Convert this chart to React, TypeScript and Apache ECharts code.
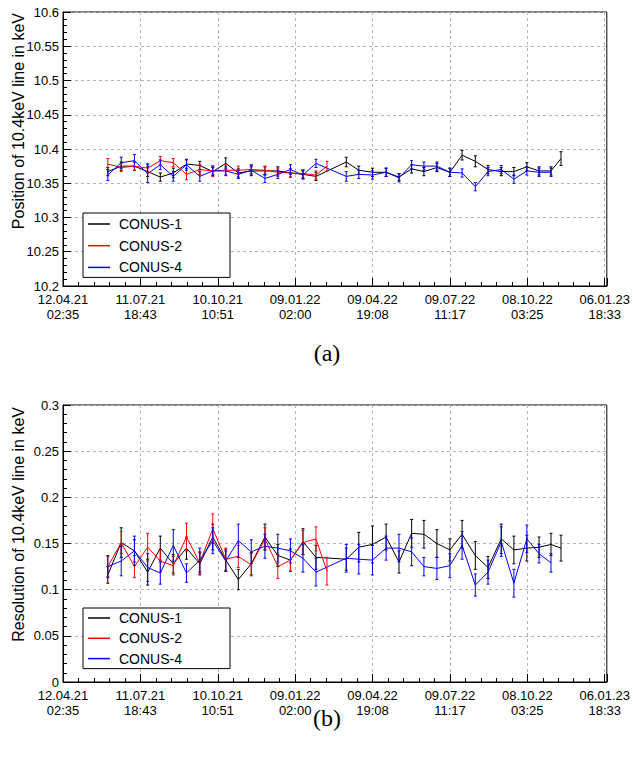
import React, { useEffect, useRef } from 'react';
import * as echarts from 'echarts';

// x positions: days since 12.04.21 02:35
const TICK_INTERVAL_DAYS = 90 + 968 / 1440;
const X_MAX_DAYS = 637.2;
const tickLabels = [
  '12.04.21\n02:35', '11.07.21\n18:43', '10.10.21\n10:51', '09.01.22\n02:00',
  '09.04.22\n19:08', '09.07.22\n11:17', '08.10.22\n03:25', '06.01.23\n18:33',
];
const days = [
  52.5, 68.2, 83.7, 99.2, 114.0, 129.2, 144.7, 160.3, 175.5, 190.7, 205.4, 220.6,
  236.6, 251.7, 266.5, 281.2, 296.4, 309.3, 331.9, 346.6, 362.6, 378.6, 393.7, 408.5,
  422.9, 438.1, 453.3, 467.6, 483.1, 498.0, 513.5, 528.3, 543.5, 557.8, 571.8, 583.5,
];
const N = null;
const seriesNames = ['CONUS-1', 'CONUS-2', 'CONUS-4'];
const seriesColors = ['#000000', '#ff0000', '#0000ff'];

// (a) line position
const posC1 = [10.367, 10.375, 10.375, 10.367, 10.359, 10.365, 10.378, 10.376, 10.367, 10.379, 10.365, 10.368, 10.368, 10.368, 10.365, 10.363, 10.360, N, 10.381, 10.369, 10.366, 10.366, 10.359, 10.371, 10.367, 10.373, 10.366, 10.391, 10.382, 10.370, 10.367, 10.367, 10.374, 10.368, 10.368, 10.386];
const posErrC1 = [0.006, 0.006, 0.006, 0.007, 0.006, 0.007, 0.006, 0.006, 0.006, 0.008, 0.006, 0.006, 0.006, 0.006, 0.006, 0.006, 0.006, N, 0.007, 0.006, 0.006, 0.006, 0.005, 0.006, 0.006, 0.006, 0.006, 0.007, 0.008, 0.006, 0.006, 0.006, 0.006, 0.006, 0.006, 0.010];
const posC2 = [10.378, 10.373, 10.375, 10.372, 10.383, 10.380, 10.363, 10.370, 10.368, 10.369, 10.369, 10.370, 10.369, 10.366, 10.365, 10.364, 10.362, 10.375, N, N, N, N, N, N, N, N, N, N, N, N, N, N, N, N, N, N];
const posErrC2 = [0.008, 0.006, 0.006, 0.007, 0.006, 0.006, 0.008, 0.007, 0.008, 0.008, 0.006, 0.006, 0.006, 0.006, 0.006, 0.006, 0.006, 0.007, N, N, N, N, N, N, N, N, N, N, N, N, N, N, N, N, N, N];
const posC4 = [10.362, 10.380, 10.383, 10.364, 10.377, 10.360, 10.377, 10.360, 10.368, 10.368, 10.363, 10.369, 10.357, 10.363, 10.370, 10.362, 10.379, N, 10.360, 10.363, 10.362, 10.366, 10.358, 10.377, 10.375, 10.375, 10.366, 10.365, 10.345, 10.367, 10.370, 10.356, 10.368, 10.366, 10.366, N];
const posErrC4 = [0.008, 0.008, 0.009, 0.013, 0.007, 0.007, 0.008, 0.007, 0.006, 0.006, 0.006, 0.008, 0.006, 0.006, 0.007, 0.006, 0.006, N, 0.007, 0.006, 0.006, 0.006, 0.006, 0.006, 0.006, 0.006, 0.006, 0.006, 0.006, 0.006, 0.006, 0.006, 0.006, 0.006, 0.006, N];

// (b) resolution
const resC1 = [0.116, 0.151, 0.142, 0.119, 0.145, 0.128, 0.145, 0.128, 0.157, 0.132, 0.111, 0.128, 0.157, 0.137, 0.132, 0.152, 0.135, N, 0.133, 0.146, 0.149, 0.157, 0.130, 0.161, 0.160, 0.150, 0.143, 0.160, 0.137, 0.124, 0.155, 0.143, 0.145, 0.146, 0.149, 0.145];
const resErrC1 = [0.009, 0.016, 0.012, 0.014, 0.013, 0.010, 0.012, 0.012, 0.014, 0.012, 0.011, 0.012, 0.014, 0.012, 0.012, 0.014, 0.013, N, 0.012, 0.016, 0.020, 0.014, 0.012, 0.015, 0.015, 0.015, 0.012, 0.015, 0.015, 0.012, 0.016, 0.015, 0.014, 0.011, 0.012, 0.014];
const resC2 = [0.125, 0.151, 0.125, 0.146, 0.131, 0.126, 0.157, 0.129, 0.166, 0.133, 0.136, 0.127, 0.155, 0.125, 0.132, 0.151, 0.155, 0.120, N, N, N, N, N, N, N, N, N, N, N, N, N, N, N, N, N, N];
const resErrC2 = [0.011, 0.012, 0.012, 0.015, 0.012, 0.010, 0.015, 0.012, 0.016, 0.012, 0.012, 0.012, 0.012, 0.013, 0.012, 0.013, 0.013, 0.015, N, N, N, N, N, N, N, N, N, N, N, N, N, N, N, N, N, N];
const resC4 = [0.125, 0.131, 0.142, 0.124, 0.118, 0.148, 0.118, 0.132, 0.153, 0.131, 0.153, 0.141, 0.147, 0.145, 0.142, 0.134, 0.119, N, 0.134, 0.133, 0.132, 0.145, 0.145, 0.141, 0.125, 0.123, 0.126, 0.148, 0.105, 0.119, 0.152, 0.107, 0.155, 0.139, 0.129, N];
const resErrC4 = [0.012, 0.016, 0.016, 0.015, 0.012, 0.017, 0.010, 0.013, 0.014, 0.011, 0.018, 0.013, 0.013, 0.015, 0.013, 0.015, 0.015, N, 0.015, 0.016, 0.016, 0.013, 0.015, 0.015, 0.010, 0.012, 0.013, 0.015, 0.012, 0.013, 0.016, 0.015, 0.015, 0.010, 0.010, N];

const FONT = 'Liberation Sans, Arial, Helvetica, sans-serif';
const SERIF = '"Liberation Serif", "DejaVu Serif", serif';

function pairs(vals: (number | null)[], errs: (number | null)[]) {
  const out: number[][] = [];
  vals.forEach((v, i) => {
    if (v !== null) out.push([days[i], v, errs[i] as number]);
  });
  return out;
}

function makeSeries(gridIdx: number, vals: (number | null)[][], errs: (number | null)[][]) {
  const list: any[] = [];
  vals.forEach((v, k) => {
    const data = pairs(v, errs[k]);
    const color = seriesColors[k];
    list.push({
      type: 'line',
      name: seriesNames[k],
      xAxisIndex: gridIdx,
      yAxisIndex: gridIdx,
      data: data.map((d) => [d[0], d[1]]),
      symbol: 'none',
      color,
      lineStyle: { color, width: 1 },
      z: 3,
    });
    list.push({
      type: 'custom',
      name: seriesNames[k] + ' err',
      xAxisIndex: gridIdx,
      yAxisIndex: gridIdx,
      dimensions: ['x', 'y', 'e'],
      encode: { x: 0, y: 1 },
      data,
      z: 4,
      renderItem: (params: any, api: any) => {
        const x = api.value(0);
        const y = api.value(1);
        const e = api.value(2);
        const top = api.coord([x, y + e]);
        const bot = api.coord([x, y - e]);
        const cap = 1.5;
        const style = { stroke: color, lineWidth: 1 };
        return {
          type: 'group',
          children: [
            { type: 'line', shape: { x1: top[0], y1: top[1], x2: bot[0], y2: bot[1] }, style },
            { type: 'line', shape: { x1: top[0] - cap, y1: top[1], x2: top[0] + cap, y2: top[1] }, style },
            { type: 'line', shape: { x1: bot[0] - cap, y1: bot[1], x2: bot[0] + cap, y2: bot[1] }, style },
          ],
        };
      },
    });
  });
  return list;
}

function xAxis(gridIndex: number) {
  return {
    type: 'value',
    gridIndex,
    min: 0,
    max: X_MAX_DAYS,
    interval: TICK_INTERVAL_DAYS,
    axisLine: { show: true, lineStyle: { color: '#000', width: 1 } },
    axisTick: { show: true, inside: true, length: 8, lineStyle: { color: '#000' } },
    minorTick: { show: true, splitNumber: 5, length: 4, lineStyle: { color: '#000' } },
    splitLine: { show: true, lineStyle: { color: '#b5b5b5', type: [3, 3], width: 1 } },
    axisLabel: {
      margin: 6,
      color: '#000',
      fontFamily: FONT,
      fontSize: 13,
      lineHeight: 15,
      showMaxLabel: false,
      formatter: (v: number) => {
        const i = Math.round(v / TICK_INTERVAL_DAYS);
        return Math.abs(v - i * TICK_INTERVAL_DAYS) < 1e-3 ? tickLabels[i] ?? '' : '';
      },
    },
  };
}

function yAxis(gridIndex: number, min: number, max: number) {
  return {
    type: 'value',
    gridIndex,
    min,
    max,
    interval: 0.05,
    axisLine: { show: true, lineStyle: { color: '#000', width: 1 } },
    axisTick: { show: true, inside: true, length: 8, lineStyle: { color: '#000' } },
    minorTick: { show: true, splitNumber: 5, length: 4, lineStyle: { color: '#000' } },
    splitLine: { show: true, lineStyle: { color: '#b5b5b5', type: [3, 3], width: 1 } },
    axisLabel: { margin: 4, color: '#000', fontFamily: FONT, fontSize: 13 },
  };
}

function legend(top: number, gap: number, padTop: number) {
  return {
    data: seriesNames,
    orient: 'vertical',
    left: 83,
    top,
    icon: 'rect',
    itemWidth: 22,
    itemHeight: 1.5,
    itemGap: gap,
    padding: [padTop, 48, 3, 5],
    backgroundColor: '#fff',
    borderColor: '#000',
    borderWidth: 1,
    borderRadius: 0,
    selectedMode: false,
    textStyle: { fontFamily: FONT, fontSize: 14, color: '#000', padding: [0, 0, 0, 4] },
  };
}

export default function App() {
  const ref = useRef<HTMLDivElement>(null);
  useEffect(() => {
    if (!ref.current) return;
    const chart = echarts.init(ref.current, undefined, { renderer: 'svg' });
    const option: any = {
      animation: false,
      backgroundColor: '#fff',
      grid: [
        { left: 63, top: 12, width: 546, height: 274, show: true, borderColor: '#000', borderWidth: 1, backgroundColor: 'transparent' },
        { left: 63, top: 405, width: 546, height: 277, show: true, borderColor: '#000', borderWidth: 1, backgroundColor: 'transparent' },
      ],
      xAxis: [xAxis(0), xAxis(1)],
      yAxis: [yAxis(0, 10.2, 10.6), yAxis(1, 0, 0.3)],
      legend: [legend(213, 7.7, 4), legend(608, 6.3, 3)],
      series: [
        ...makeSeries(0, [posC1, posC2, posC4], [posErrC1, posErrC2, posErrC4]),
        ...makeSeries(1, [resC1, resC2, resC4], [resErrC1, resErrC2, resErrC4]),
      ],
      graphic: [
        {
          type: 'text', x: 18, y: 13, rotation: Math.PI / 2,
          style: { text: 'Position of 10.4keV line in keV', font: `16px ${FONT}`, fill: '#000', align: 'right', verticalAlign: 'middle' },
        },
        {
          type: 'text', x: 18, y: 407, rotation: Math.PI / 2,
          style: { text: 'Resolution of 10.4keV line in keV', font: `16px ${FONT}`, fill: '#000', align: 'right', verticalAlign: 'middle' },
        },
        {
          type: 'text', x: 327, y: 353,
          style: { text: '(a)', font: `24px ${SERIF}`, fill: '#000', align: 'center', verticalAlign: 'middle' },
        },
        {
          type: 'text', x: 327, y: 718,
          style: { text: '(b)', font: `24px ${SERIF}`, fill: '#000', align: 'center', verticalAlign: 'middle' },
        },
      ],
    };
    chart.setOption(option);
    return () => chart.dispose();
  }, []);
  return (
    <div
      ref={ref}
      style={{ position: 'absolute', left: 0, top: 0, width: 633, height: 758, background: '#fff' }}
    />
  );
}
